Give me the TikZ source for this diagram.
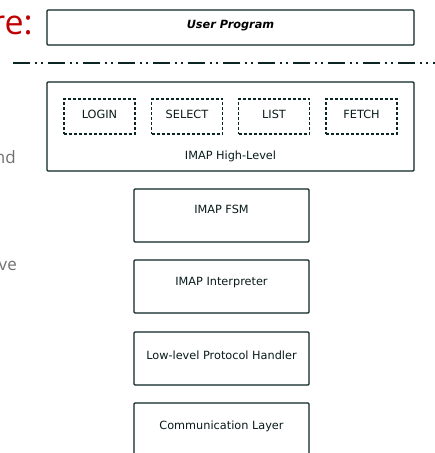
\documentclass[tikz,border=0pt]{standalone}
\usepackage{fontspec}
\setmainfont{DejaVu Sans}
\newfontfamily\slidefont{Open Sans}
\definecolor{layer line color}{HTML}{0B2424}
\definecolor{slide title color}{HTML}{C00000}
\definecolor{slide text color}{HTML}{707070}
\tikzset{
    x={1pt},
    y={-1pt},
    layer/.style={
        draw=layer line color,
        line width={1.4pt},
        rounded corners={1pt},
        inner sep=0pt,
        outer sep=0pt,
        minimum width={#1},
    },
    layer/.default={175},
    command/.style={
        draw=layer line color,
        line width={1.1pt},
        dash pattern=on 3pt off 2pt,
        inner sep=0pt,
        outer sep=0pt,
        minimum width={71},
        minimum height={35},
    },
    layer label/.style={
        font={\fontsize{11.3}{13}\selectfont},
        text=layer line color!70!black,
        anchor=center,
        inner sep=0pt,
    },
    separator/.style={
        draw=layer line color,
        line width={1.6pt},
        dash pattern=on 17pt off 4.5pt on 2pt off 4.5pt on 2pt off 5pt,
    },
    slide text/.style={
        font={\slidefont\fontsize{17}{20}\selectfont},
        text=slide text color,
        anchor=base east,
        inner sep=0pt,
    },
}

\begin{document}
\begin{tikzpicture}
\useasboundingbox (0,0) rectangle (435,453);
\clip (0,0) rectangle (435,453);
% slide text
\node[slide text, text=slide title color, font={\slidefont\fontsize{34}{40}\selectfont}] (title) at (33,34) {re:};
\node[slide text] (textA) at (16,163) {nd};
\node[slide text] (textB) at (17,270) {ve};
% separator
\coordinate (sepstart) at (13,63);
\coordinate (sepend) at (440,63);
\path[separator] (sepstart) -- (sepend);
% user program
\node[layer={367}, minimum height={35}] (user) at (230.5,27.5) {};
\node[layer label, font={\fontsize{11.3}{13}\selectfont\bfseries\itshape}, text=black] (userlabel) at (230.5,25.5) {User Program};
% high level
\node[layer={367}, minimum height={89}] (high) at (230.5,126.5) {};
\node[layer label] (highlabel) at (230.5,156) {IMAP High-Level};
\node[command] (login) at (99.5,116.5) {};
\node[command] (select) at (187,116.5) {};
\node[command] (list) at (274,116.5) {};
\node[command] (fetch) at (361.5,116.5) {};
\node[layer label] (loginlabel) at (99.5,114) {LOGIN};
\node[layer label] (selectlabel) at (187,114) {SELECT};
\node[layer label] (listlabel) at (274,114) {LIST};
\node[layer label] (fetchlabel) at (361.5,114) {FETCH};
% lower layers
\node[layer, minimum height={53}] (fsm) at (221.5,215.5) {};
\node[layer, minimum height={53}] (interp) at (221.5,286.5) {};
\node[layer, minimum height={53}] (proto) at (221.5,358.5) {};
\node[layer, minimum height={53}] (comm) at (221.5,429.5) {};
\node[layer label] (fsmlabel) at (221.5,209) {IMAP FSM};
\node[layer label] (interplabel) at (221.5,283) {IMAP Interpreter};
\node[layer label] (protolabel) at (221.5,355) {Low-level Protocol Handler};
\node[layer label] (commlabel) at (221.5,426) {Communication Layer};
\end{tikzpicture}
\end{document}
